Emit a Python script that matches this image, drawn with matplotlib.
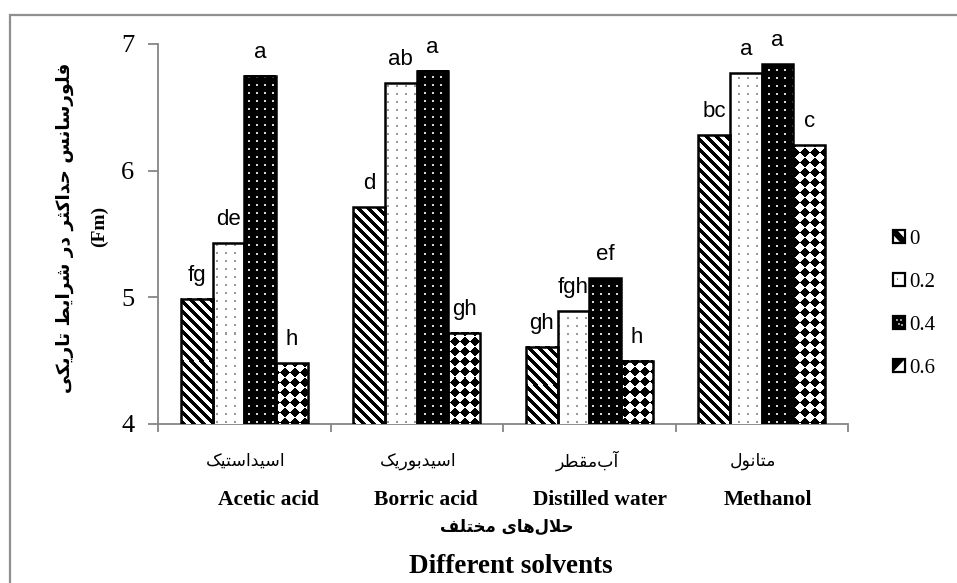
import numpy as np
import matplotlib
matplotlib.use("Agg")
import matplotlib.pyplot as plt
from matplotlib.patches import Rectangle, Polygon
from matplotlib.legend_handler import HandlerBase

# ---------------- data ----------------
solvents_fa = ["اسیداستیک", "اسیدبوریک", "آب\u200cمقطر", "متانول"]
solvents_en = ["Acetic acid", "Borric acid", "Distilled water", "Methanol"]
levels = ["0", "0.2", "0.4", "0.6"]

fm_0 = [4.99, 5.71, 4.61, 6.28]
fm_02 = [5.43, 6.69, 4.89, 6.77]
fm_04 = [6.75, 6.79, 5.15, 6.84]
fm_06 = [4.48, 4.72, 4.50, 6.20]

letters_0 = ["fg", "d", "gh", "bc"]
letters_02 = ["de", "ab", "fgh", "a"]
letters_04 = ["a", "a", "ef", "a"]
letters_06 = ["h", "gh", "h", "c"]

ylabel_fa = "فلورسانس حداکثر در شرایط تاریکی"
ylabel_en = "(Fm)"
xlabel_fa = "حلال\u200cهای مختلف"
xlabel_en = "Different solvents"
yticks = [4, 5, 6, 7]

series = [fm_0, fm_02, fm_04, fm_06]
series_letters = [letters_0, letters_02, letters_04, letters_06]
patterns = ["stripe", "dots_light", "dots_dark", "diamond"]

# ---------------- Persian shaping (presentation forms, visual order) ----------------
FORMS = {
    'ا': (0xFE8D, 0xFE8E, None, None),
    'آ': (0xFE81, 0xFE82, None, None),
    'ب': (0xFE8F, 0xFE90, 0xFE91, 0xFE92),
    'ت': (0xFE95, 0xFE96, 0xFE97, 0xFE98),
    'ث': (0xFE99, 0xFE9A, 0xFE9B, 0xFE9C),
    'ح': (0xFEA1, 0xFEA2, 0xFEA3, 0xFEA4),
    'خ': (0xFEA5, 0xFEA6, 0xFEA7, 0xFEA8),
    'د': (0xFEA9, 0xFEAA, None, None),
    'ر': (0xFEAD, 0xFEAE, None, None),
    'س': (0xFEB1, 0xFEB2, 0xFEB3, 0xFEB4),
    'ش': (0xFEB5, 0xFEB6, 0xFEB7, 0xFEB8),
    'ط': (0xFEC1, 0xFEC2, 0xFEC3, 0xFEC4),
    'ف': (0xFED1, 0xFED2, 0xFED3, 0xFED4),
    'ق': (0xFED5, 0xFED6, 0xFED7, 0xFED8),
    'ل': (0xFEDD, 0xFEDE, 0xFEDF, 0xFEE0),
    'م': (0xFEE1, 0xFEE2, 0xFEE3, 0xFEE4),
    'ن': (0xFEE5, 0xFEE6, 0xFEE7, 0xFEE8),
    'ه': (0xFEE9, 0xFEEA, 0xFEEB, 0xFEEC),
    'و': (0xFEED, 0xFEEE, None, None),
    'ک': (0xFB8E, 0xFB8F, 0xFB90, 0xFB91),
    'ی': (0xFBFC, 0xFBFD, 0xFBFE, 0xFBFF),
}
LAM_ALEF = {'ا': (0xFEFB, 0xFEFC), 'آ': (0xFEF5, 0xFEF6)}


def joins_forward(c):
    return c in FORMS and FORMS[c][2] is not None


def fa(text):
    out = []
    n = len(text)
    i = 0
    while i < n:
        c = text[i]
        if c not in FORMS:
            if c != '\u200c':
                out.append(c)
            i += 1
            continue
        prev = text[i - 1] if i > 0 else None
        linked_prev = prev is not None and joins_forward(prev)
        if c == 'ل' and i + 1 < n and text[i + 1] in LAM_ALEF:
            iso, fin = LAM_ALEF[text[i + 1]]
            out.append(chr(fin if linked_prev else iso))
            i += 2
            continue
        nxt = text[i + 1] if i + 1 < n else None
        linked_next = joins_forward(c) and nxt in FORMS
        iso, fin, ini, med = FORMS[c]
        if linked_prev and linked_next:
            code = med
        elif linked_prev:
            code = fin
        elif linked_next:
            code = ini
        else:
            code = iso
        out.append(chr(code))
        i += 1
    return ''.join(reversed(out))


# ---------------- figure ----------------
W, H = 957, 583
DPI = 100
fig = plt.figure(figsize=(W / DPI, H / DPI), dpi=DPI)
fig.patch.set_facecolor("white")


def fx(px):
    return px / W


def fy(py):
    return 1 - py / H


# outer frame
fig.add_artist(Rectangle((fx(9.5), -0.2), 2, fy(15) + 0.2, transform=fig.transFigure,
                         fill=False, edgecolor="#8f8f8f", linewidth=1.6))

ax = fig.add_axes([fx(158), fy(424), fx(848) - fx(158), fy(44) - fy(424)])
n_cat = len(solvents_en)
ax.set_xlim(0, n_cat)
ax.set_ylim(4, 7)

SERIF = "Liberation Serif"
SANS = "Liberation Sans"
FA = "DejaVu Sans"

gray = "#868686"
for s in ["top", "right"]:
    ax.spines[s].set_visible(False)
for s in ["left", "bottom"]:
    ax.spines[s].set_color(gray)
    ax.spines[s].set_linewidth(1.3)
ax.set_yticks(yticks)
ax.set_yticklabels([str(t) for t in yticks], fontfamily=SERIF, fontsize=19)
ax.set_xticks(np.arange(n_cat + 1))
ax.set_xticklabels([])
ax.tick_params(axis="y", direction="out", length=7, width=1.3, color=gray, pad=10)
ax.tick_params(axis="x", direction="out", length=6, width=1.3, color=gray)


def pattern_rgb(kind, x0, y0, w, h):
    X = x0 + np.arange(w)[None, :]
    Y = y0 + h - 1 - np.arange(h)[:, None]
    X = np.broadcast_to(X, (h, w))
    Y = np.broadcast_to(Y, (h, w))
    img = np.ones((h, w, 3))
    if kind == "stripe":
        mask = ((X + Y) % 10) < 4.6
        img[mask] = 0.0
    elif kind == "dots_light":
        mask = ((X % 9) < 2) & ((Y % 8) < 2)
        img[mask] = 0.6
    elif kind == "dots_dark":
        img[:] = 0.0
        mask = ((X % 8) < 2) & ((Y % 8) < 2)
        img[mask] = 0.85
    elif kind == "diamond":
        s = 10
        u = (X + Y) // s
        v = (X - Y) // s
        mask = ((u + v) % 2) == 0
        img[mask] = 0.0
    return img


bar_w = 0.184
centers = np.arange(n_cat) + 0.5
for k, (vals, labs, kind) in enumerate(zip(series, series_letters, patterns)):
    xs = centers + (k - 1.5) * bar_w
    ax.bar(xs, vals, width=bar_w, bottom=0, color="white", linewidth=0, zorder=3)
    for x, v, lab in zip(xs, vals, labs):
        x0d, x1d = x - bar_w / 2, x + bar_w / 2
        (px0, py0), (px1, py1) = ax.transData.transform([(x0d, 4), (x1d, v)])
        w = max(int(round(px1 - px0)), 1)
        h = max(int(round(py1 - py0)), 1)
        img = pattern_rgb(kind, int(round(px0)), int(round(py0)), w, h)
        ax.imshow(img, extent=(x0d, x1d, 4, v), origin="upper", aspect="auto",
                  interpolation="nearest", zorder=3.5)
        ax.annotate(lab, (x, v), xytext=(0, 13), textcoords="offset points",
                    ha="center", va="baseline", fontsize=16, fontfamily=SANS,
                    zorder=2)
    ax.bar(xs, vals, width=bar_w, fill=False, edgecolor="black", linewidth=1.8, zorder=4)

ax.set_xlim(0, n_cat)
ax.set_ylim(4, 7)

# category names (Persian and English)
fa_x = [246, 418, 587, 753]
en_x = [269, 426, 600, 768]
for name, x in zip(solvents_fa, fa_x):
    fig.text(fx(x), fy(461), fa(name), ha="center", va="center", fontfamily=FA, fontsize=12.5)
for name, x in zip(solvents_en, en_x):
    fig.text(fx(x), fy(505), name, ha="center", va="baseline", fontfamily=SERIF,
             fontweight="bold", fontsize=15.5)

fig.text(fx(507), fy(527), fa(xlabel_fa), ha="center", va="center", fontfamily=FA,
         fontweight="bold", fontsize=12)
fig.text(fx(511), fy(573), xlabel_en, ha="center", va="baseline", fontfamily=SERIF,
         fontweight="bold", fontsize=19.5)

fig.text(fx(65), fy(228), fa(ylabel_fa), ha="center", va="center", rotation=90,
         fontfamily=FA, fontweight="bold", fontsize=13.3)
fig.text(fx(99), fy(226), ylabel_en, ha="center", va="center", rotation=90,
         fontfamily=SERIF, fontweight="bold", fontsize=14)


# legend with small pattern swatches
class SwatchHandler(HandlerBase):
    def create_artists(self, legend, orig_handle, xdescent, ydescent, width, height,
                       fontsize, trans):
        kind = orig_handle.get_gid()
        x0, y0 = -xdescent, -ydescent
        arts = []
        face = "black" if kind == "dots_dark" else "white"
        arts.append(Rectangle((x0, y0), width, height, facecolor=face, edgecolor="none",
                              transform=trans))
        if kind == "stripe":
            arts.append(Polygon([(x0, y0 + height), (x0 + 0.35 * width, y0 + height),
                                 (x0 + width, y0 + 0.35 * height), (x0 + width, y0),
                                 (x0 + 0.65 * width, y0), (x0, y0 + 0.65 * height)],
                                closed=True, facecolor="black", edgecolor="none",
                                transform=trans))
        elif kind == "dots_light":
            arts.append(Rectangle((x0 + 0.3 * width, y0 + 0.45 * height), 0.15 * width,
                                  0.15 * height, facecolor="#777777", edgecolor="none",
                                  transform=trans))
        elif kind == "dots_dark":
            for (a, b) in [(0.25, 0.6), (0.6, 0.6), (0.4, 0.3), (0.7, 0.25)]:
                arts.append(Rectangle((x0 + a * width, y0 + b * height), 0.14 * width,
                                      0.14 * height, facecolor="#9a9a9a", edgecolor="none",
                                      transform=trans))
        elif kind == "diamond":
            arts.append(Polygon([(x0, y0), (x0, y0 + height), (x0 + width, y0 + height)],
                                closed=True, facecolor="black", edgecolor="none",
                                transform=trans))
        arts.append(Rectangle((x0, y0), width, height, fill=False, edgecolor="black",
                              linewidth=1.6, transform=trans))
        return arts


handles = []
for kind in patterns:
    r = Rectangle((0, 0), 1, 1)
    r.set_gid(kind)
    handles.append(r)

leg = fig.legend(handles, levels, handler_map={Rectangle: SwatchHandler()},
                 loc="upper left", bbox_to_anchor=(fx(893), fy(230)),
                 frameon=False, borderpad=0, borderaxespad=0,
                 handlelength=0.58, handleheight=0.58, handletextpad=0.2,
                 labelspacing=1.15, prop={"family": SERIF, "size": 15})

fig.savefig("out.png", dpi=DPI, facecolor="white")
